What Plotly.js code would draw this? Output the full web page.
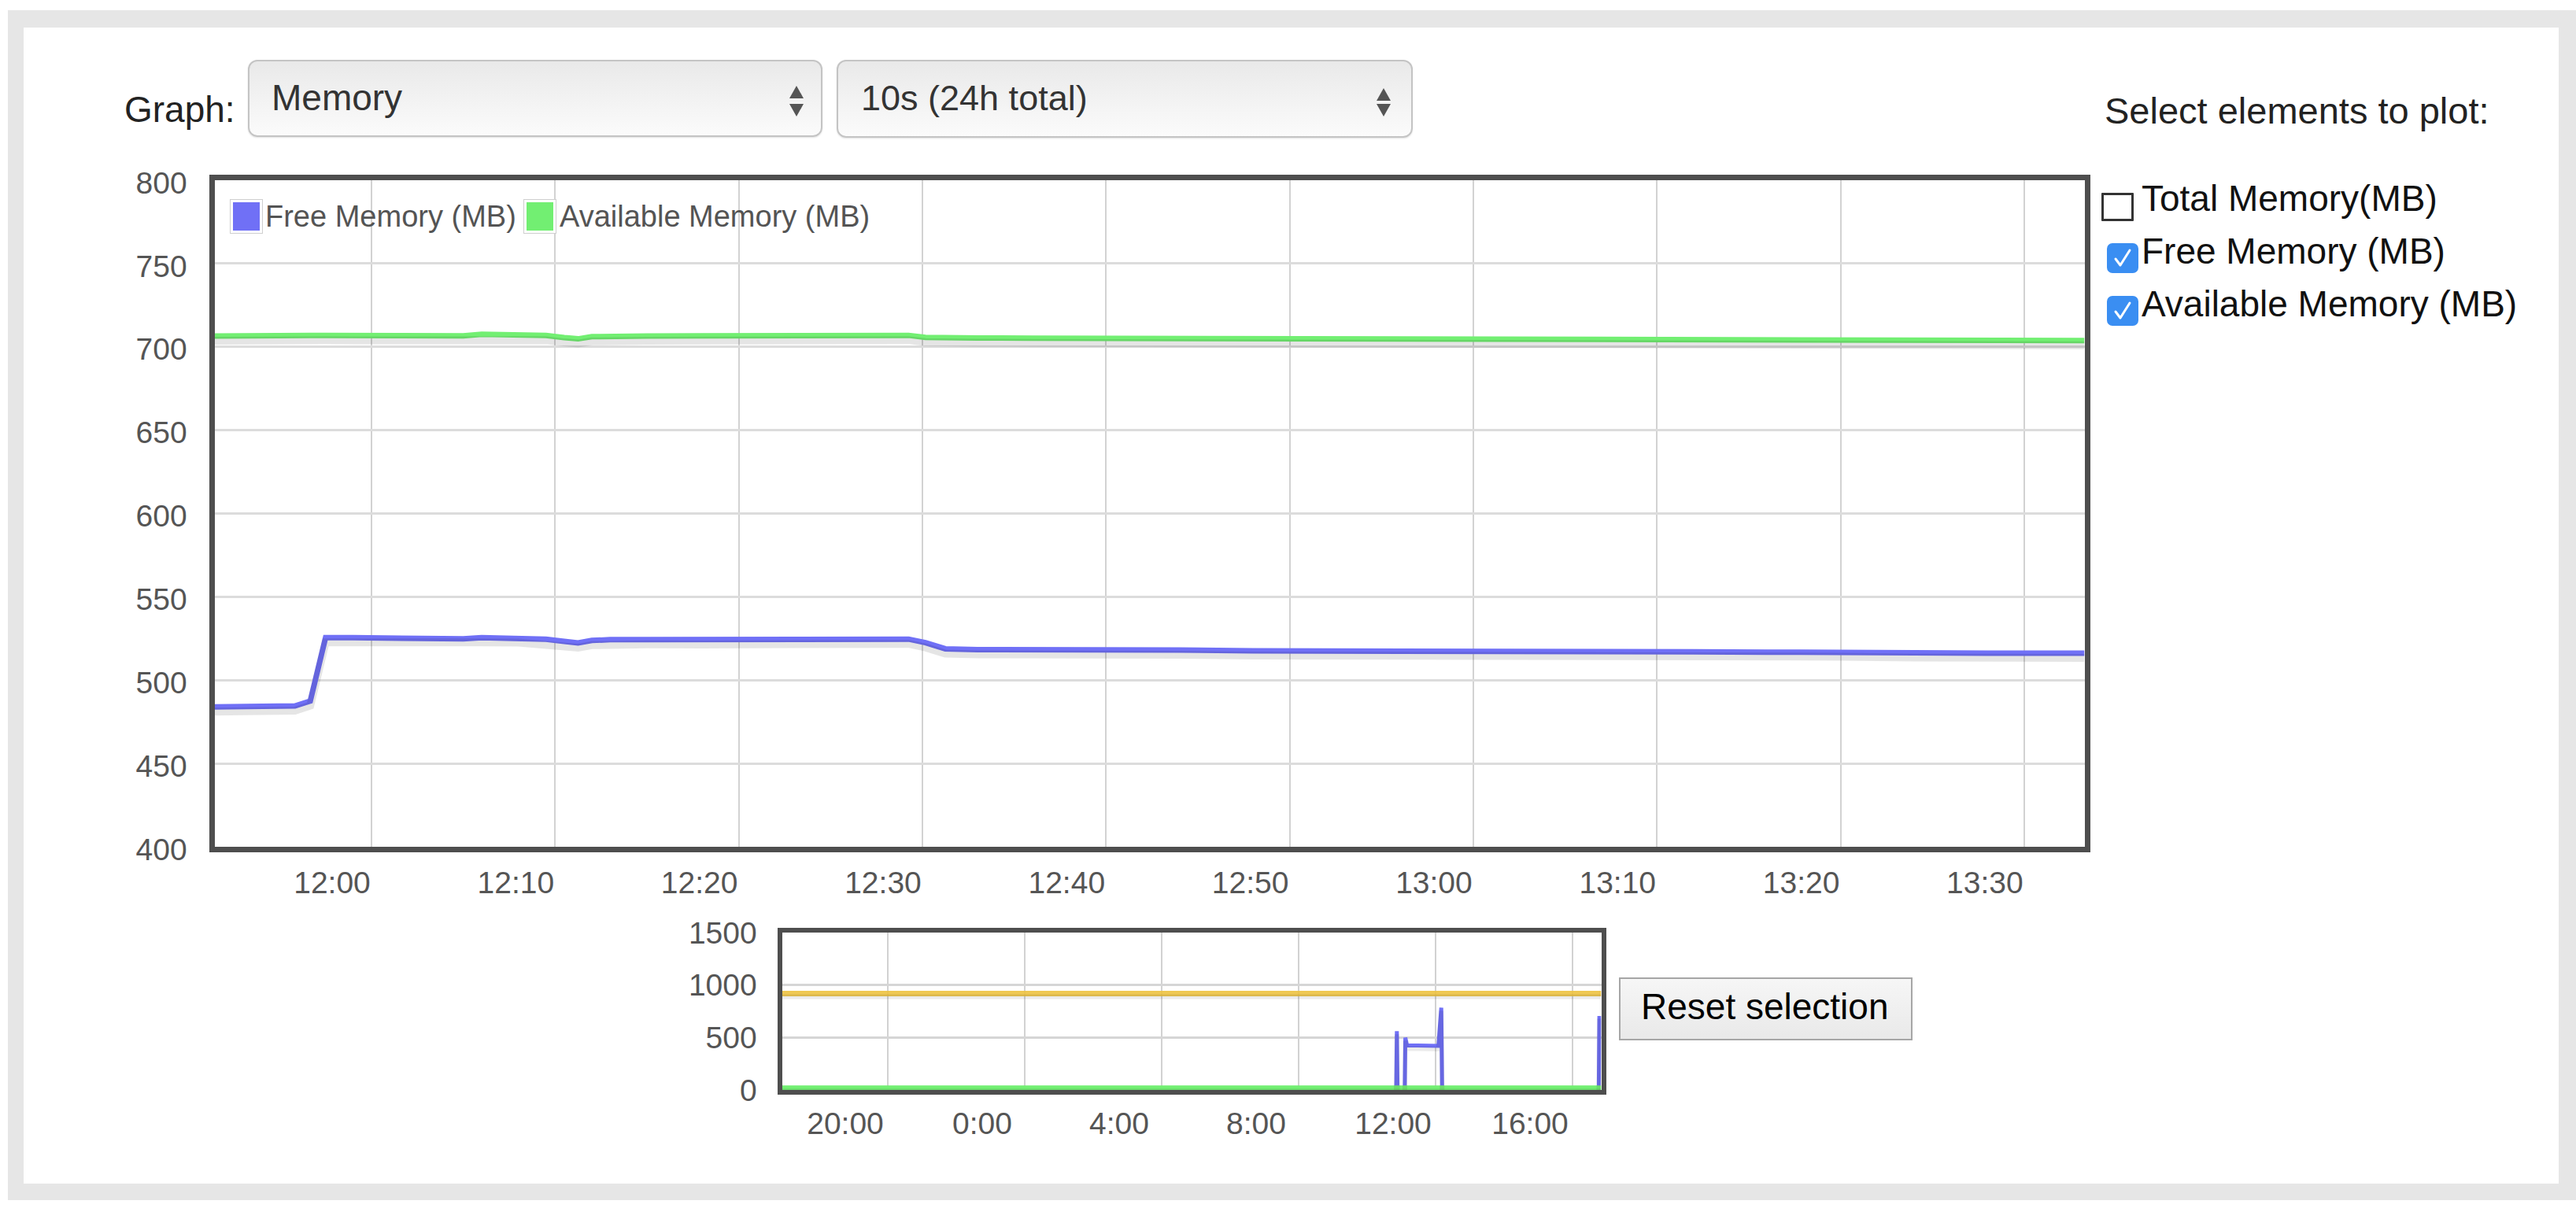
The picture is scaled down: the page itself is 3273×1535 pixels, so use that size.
<!DOCTYPE html>
<html>
<head>
<meta charset="utf-8">
<script src="https://cdn.plot.ly/plotly-3.0.1.min.js"></script>
<style>
  html, body { margin:0; padding:0; background:#ffffff; }
  body { width:3273px; height:1535px; position:relative; overflow:hidden;
         font-family:"Liberation Sans", Arial, Helvetica, sans-serif; }
  #frame { position:absolute; left:10px; top:13px; width:3263px; height:1512px; background:#e6e6e6; }
  #panel { position:absolute; left:30px; top:35px; width:3221px; height:1469px; background:#ffffff; }
  #chart { position:absolute; left:0; top:0; width:3273px; height:1535px; }
  .txt { position:absolute; white-space:nowrap; line-height:1; }
  .dd { position:absolute; box-sizing:border-box; border:2px solid #c4c4c4; border-radius:12px;
        background:linear-gradient(#e9e9e9, #f3f3f3 55%, #fbfbfb);
        box-shadow:0 1px 2px rgba(0,0,0,0.12); }
  .up { position:absolute; width:0; height:0; border-left:9px solid transparent; border-right:9px solid transparent; border-bottom:16px solid #555; }
  .down { position:absolute; width:0; height:0; border-left:9px solid transparent; border-right:9px solid transparent; border-top:16px solid #555; }
  .cb { position:absolute; box-sizing:border-box; }
  .cb.off { border:3px solid #333; background:#fff; border-radius:1px; }
  .cb.on { background:#3a8ef2; border-radius:7px; }
  .sw { position:absolute; box-sizing:border-box; border:1px solid #cfcfcf; padding:3px; background:#fff; }
  .sw div { width:100%; height:100%; }
  #reset { position:absolute; box-sizing:border-box; border:2px solid #a6a6a6;
           background:linear-gradient(#f6f6f6,#e9e9e9); }
</style>
</head>
<body>
<div id="frame"></div>
<div id="panel"></div>
<div id="chart"></div>
<div id="overlay"></div>
<script>
// ---------------- DATA ----------------
const graphOptions = ["Memory"];
const periodOptions = ["10s (24h total)"];
const seriesNames = ["Total Memory(MB)", "Free Memory (MB)", "Available Memory (MB)"];
const seriesChecked = [false, true, true];
const seriesColors = ["#edc240", "#7070f6", "#72ef72"];

const mainDay = "2016-06-01";
const mainTimes = ["11:51:27","11:53:00","11:55:00","11:55:50","11:56:40","11:57:30","11:59:00","12:01:00",
  "12:03:00","12:05:00","12:06:00","12:08:00","12:09:30","12:10:30","12:11:15","12:12:00","12:13:00",
  "12:15:00","12:18:00","12:21:00","12:24:00","12:27:00","12:29:15","12:30:10","12:31:15","12:33:00",
  "12:36:00","12:40:00","12:44:00","12:48:00","12:52:00","12:56:00","13:00:00","13:04:00","13:08:00",
  "13:12:00","13:16:00","13:20:00","13:24:00","13:28:00","13:31:00","13:33:17"];
const freeMem = [484,484,484,484.5,487.5,525.5,525.5,525.2,
  525,524.8,525.5,525.4,524.5,523.3,522.3,523.8,524.3,
  524.3,524.2,524.2,524,524.3,524.6,522.5,518.8,518.3,
  518.4,518.3,518.1,517.6,517.6,517.8,517.5,517.3,517.1,
  517,516.8,516.9,516.4,516.2,516.3,516.2];
const availMem = [706.5,706.8,706.9,706.9,706.8,706.8,706.7,706.7,
  706.5,706.6,707.5,707.5,706.8,705.5,704.8,706.1,706.5,
  706.5,706.6,706.7,706.6,706.8,706.9,705.7,705.3,705.3,
  705.2,705.1,705,704.8,704.8,704.7,704.5,704.5,704.3,
  704.2,704.1,704,703.9,703.8,703.8,703.8];
const mainRange = ["2016-06-01 11:51:27", "2016-06-01 13:33:17"];
const mainXTicks = ["12:00","12:10","12:20","12:30","12:40","12:50","13:00","13:10","13:20","13:30"];
const mainYTicks = [400,450,500,550,600,650,700,750,800];
const mainYRange = [400, 800];

const ovTimes = ["2016-05-31 16:54:30","2016-06-01 10:51:00","2016-06-01 10:52:10","2016-06-01 10:53:20",
  "2016-06-01 11:06:00","2016-06-01 11:07:00","2016-06-01 11:10:00","2016-06-01 12:05:00",
  "2016-06-01 12:10:00","2016-06-01 12:11:30","2016-06-01 16:46:00","2016-06-01 16:47:00","2016-06-01 16:50:20"];
const ovTotal = [918,918,918,918,918,918,918,918,918,918,918,918,918];
const ovFree  = [0,0,560,0,0,498,425,420,784,0,0,687,687];
const ovAvail = [20,20,20,20,20,20,20,20,20,20,20,20,20];
const ovRange = ["2016-05-31 16:54:30", "2016-06-01 16:50:20"];
const ovXTickVals = ["2016-05-31 20:00","2016-06-01 00:00","2016-06-01 04:00","2016-06-01 08:00","2016-06-01 12:00","2016-06-01 16:00"];
const ovXTickText = ["20:00","0:00","4:00","8:00","12:00","16:00"];
const ovYTicks = [0,500,1000,1500];
const ovYRange = [0, 1500];

// ---------------- LAYOUT HELPERS ----------------
const W = 3273, H = 1535;
const px = x => x / W;
const py = y => 1 - y / H;
const FONT = "Liberation Sans, Arial, Helvetica, sans-serif";
const tickColor = "#555555";

const mainX = mainTimes.map(t => mainDay + " " + t);
const shadowMainShift = 6 / (1076 - 229) * (mainYRange[1] - mainYRange[0]);
const shadowOvShift = 4 / (1385 - 1185) * (ovYRange[1] - ovYRange[0]);

const traces = [];
// main shadows
traces.push({x: mainX, y: freeMem, xaxis:"x", yaxis:"y3", mode:"lines", hoverinfo:"skip",
  line:{color:"rgba(0,0,0,0.10)", width:10}, showlegend:false});
traces.push({x: mainX, y: availMem, xaxis:"x", yaxis:"y3", mode:"lines", hoverinfo:"skip",
  line:{color:"rgba(0,0,0,0.10)", width:10}, showlegend:false});
// main lines
traces.push({x: mainX, y: freeMem, xaxis:"x", yaxis:"y", mode:"lines", name: seriesNames[1],
  line:{color: seriesColors[1], width:7}, showlegend:false});
traces.push({x: mainX, y: availMem, xaxis:"x", yaxis:"y", mode:"lines", name: seriesNames[2],
  line:{color: seriesColors[2], width:7}, showlegend:false});
// overview shadows
[ovTotal, ovFree, ovAvail].forEach(arr => traces.push({x: ovTimes, y: arr, xaxis:"x2", yaxis:"y4",
  mode:"lines", hoverinfo:"skip", line:{color:"rgba(0,0,0,0.08)", width:6}, showlegend:false}));
// overview lines
traces.push({x: ovTimes, y: ovTotal, xaxis:"x2", yaxis:"y2", mode:"lines", name: seriesNames[0],
  line:{color: seriesColors[0], width:7}, opacity:0.9, showlegend:false});
traces.push({x: ovTimes, y: ovFree, xaxis:"x2", yaxis:"y2", mode:"lines", name: seriesNames[1],
  line:{color: seriesColors[1], width:5}, showlegend:false});
traces.push({x: ovTimes, y: ovAvail, xaxis:"x2", yaxis:"y2", mode:"lines", name: seriesNames[2],
  line:{color: seriesColors[2], width:6}, showlegend:false});

const tf = {family: FONT, size: 39, color: tickColor};
const layout = {
  width: W, height: H,
  margin: {l:0, r:0, t:0, b:0, pad:0},
  paper_bgcolor: "rgba(0,0,0,0)",
  plot_bgcolor: "#ffffff",
  showlegend: false,
  xaxis: {
    type:"date", range: mainRange, domain:[px(272.5), px(2648.5)], anchor:"y",
    tickvals: mainXTicks.map(t => mainDay + " " + t), ticktext: mainXTicks,
    showgrid:true, gridcolor:"#d2d2d2", gridwidth:2, zeroline:false,
    showline:true, linecolor:"#4e4e4e", linewidth:7, mirror:true,
    ticks:"", tickfont: tf, ticklabelshift:-50, ticklabelstandoff:5, fixedrange:true
  },
  yaxis: {
    range: mainYRange, domain:[py(1076), py(229)], anchor:"x",
    tickvals: mainYTicks, showgrid:true, gridcolor:"#dcdcdc", gridwidth:3, zeroline:false,
    showline:true, linecolor:"#4e4e4e", linewidth:7, mirror:true,
    ticks:"", tickfont: tf, ticklabelstandoff:20, ticklabelshift:3, fixedrange:true
  },
  yaxis3: {
    overlaying:"y", anchor:"x", range:[mainYRange[0]+shadowMainShift, mainYRange[1]+shadowMainShift],
    visible:false, fixedrange:true
  },
  xaxis2: {
    type:"date", range: ovRange, domain:[px(993.5), px(2034.5)], anchor:"y2",
    tickvals: ovXTickVals, ticktext: ovXTickText,
    showgrid:true, gridcolor:"#d2d2d2", gridwidth:2, zeroline:false,
    showline:true, linecolor:"#4e4e4e", linewidth:6, mirror:true,
    ticks:"", tickfont: tf, ticklabelshift:-54, ticklabelstandoff:3, fixedrange:true
  },
  yaxis2: {
    range: ovYRange, domain:[py(1385), py(1185)], anchor:"x2",
    tickvals: ovYTicks, showgrid:true, gridcolor:"#d6d6d6", gridwidth:3, zeroline:false,
    showline:true, linecolor:"#4e4e4e", linewidth:6, mirror:true,
    ticks:"", tickfont: tf, ticklabelstandoff:18, fixedrange:true
  },
  yaxis4: {
    overlaying:"y2", anchor:"x2", range:[ovYRange[0]+shadowOvShift, ovYRange[1]+shadowOvShift],
    visible:false, fixedrange:true
  }
};
Plotly.newPlot("chart", traces, layout, {staticPlot:true, displayModeBar:false});

// ---------------- HTML CONTROLS ----------------
const ov = document.getElementById("overlay");
function el(cls, css, html) {
  const d = document.createElement("div");
  d.className = cls; Object.assign(d.style, css);
  if (html !== undefined) d.innerHTML = html;
  ov.appendChild(d); return d;
}
// text placed by baseline (line-height 1 => baseline ~ top + 0.8465*size)
function text(str, x, baseline, size, color) {
  const d = el("txt", {left:x+"px", top:(baseline - 0.8465*size)+"px", fontSize:size+"px", color:color||"#222"});
  d.textContent = str; return d;
}
text("Graph:", 158, 155, 46, "#222");
el("dd", {left:"315px", top:"76px", width:"730px", height:"98px"});
text(graphOptions[0], 345, 140, 46, "#333");
el("up", {left:"1003px", top:"109px"}); el("down", {left:"1003px", top:"132px"});
el("dd", {left:"1063px", top:"76px", width:"732px", height:"99px"});
text(periodOptions[0], 1094, 140, 45, "#333");
el("up", {left:"1749px", top:"112px"}); el("down", {left:"1749px", top:"132px"});

text("Select elements to plot:", 2674, 157, 47, "#222");
const rowBase = [268, 335, 402];
const check = '<svg width="40" height="38" viewBox="0 0 40 38"><polyline points="11,20 17,28 29,9" fill="none" stroke="#fff" stroke-width="3" stroke-linecap="round" stroke-linejoin="round"/></svg>';
seriesNames.forEach((n, i) => {
  if (seriesChecked[i]) {
    el("cb on", {left:"2677px", top:(rowBase[i]-26)+"px", width:"40px", height:"38px"}, check);
  } else {
    el("cb off", {left:"2670px", top:(rowBase[i]-23)+"px", width:"41px", height:"36px"});
  }
  text(n, 2721, rowBase[i], 46, "#111");
});

// legend inside the main plot (Free, Available)
const legItems = [{i:1, sx:292, tx:337}, {i:2, sx:665, tx:711}];
legItems.forEach(it => {
  el("sw", {left:it.sx+"px", top:"253px", width:"42px", height:"44px"}, '<div style="background:'+seriesColors[it.i]+'"></div>');
  text(seriesNames[it.i], it.tx, 288, 38, "#545454");
});

// reset button
const rb = el("", {position:"absolute", left:"2057px", top:"1242px", width:"373px", height:"80px"});
rb.id = "reset";
text("Reset selection", 2085, 1295, 46, "#000");
</script>
</body>
</html>
